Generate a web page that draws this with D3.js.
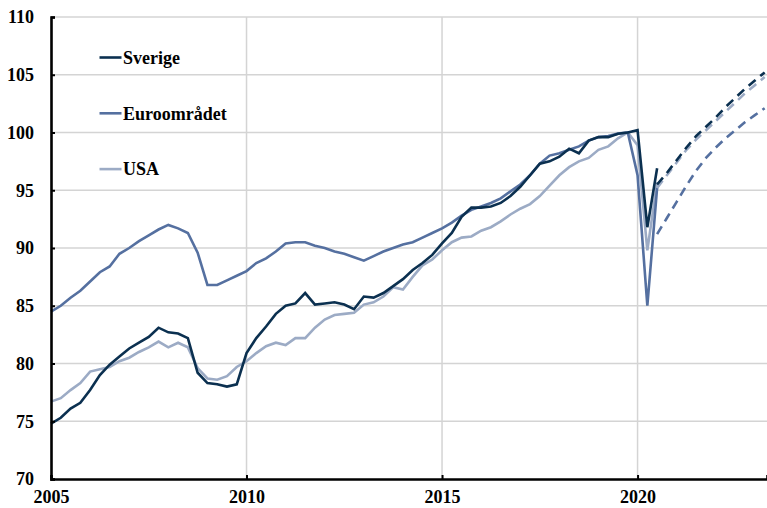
<!DOCTYPE html>
<html lang="sv">
<head>
<meta charset="UTF-8">
<title>BNP-index</title>
<script src="https://cdn.jsdelivr.net/npm/d3@7"></script>
<style>
    body { margin: 0; background: #fff; }
    text { font-family: "Liberation Serif", "Times New Roman", serif; font-weight: bold; }
</style>
</head>
<body>
<div id="chart"></div>
<script>
// Kvartal från 2005K1, index 2019K4 = 100
const startYear = 2005;
const sverige = [74.8,75.3,76.1,76.6,77.7,79.0,79.9,80.6,81.3,81.8,82.3,83.1,82.7,82.6,82.2,79.2,78.3,78.2,78.0,78.2,
    80.9,82.2,83.2,84.3,85.0,85.2,86.1,85.1,85.2,85.3,85.1,84.7,85.8,85.7,86.1,86.7,87.3,88.1,88.7,89.4,
    90.4,91.3,92.7,93.5,93.5,93.6,93.9,94.5,95.3,96.3,97.3,97.5,97.9,98.6,98.2,99.3,99.6,99.6,99.9,100.0,
    100.2,91.8,96.9];
const euro = [84.5,85.0,85.7,86.3,87.1,87.9,88.4,89.5,90.0,90.6,91.1,91.6,92.0,91.7,91.3,89.6,86.8,86.8,87.2,87.6,
    88.0,88.7,89.1,89.7,90.4,90.5,90.5,90.2,90.0,89.7,89.5,89.2,88.9,89.3,89.7,90.0,90.3,90.5,90.9,91.3,
    91.7,92.2,92.8,93.3,93.6,93.9,94.3,94.9,95.5,96.3,97.3,98.0,98.2,98.5,98.8,99.3,99.6,99.7,99.9,100.0,
    96.3,85.0,95.2];
const usa = [76.7,77.0,77.7,78.3,79.3,79.5,79.7,80.2,80.5,81.0,81.4,81.9,81.4,81.8,81.4,79.6,78.7,78.6,78.9,79.7,
    80.2,80.9,81.5,81.8,81.6,82.2,82.2,83.1,83.8,84.2,84.3,84.4,85.1,85.3,85.8,86.6,86.4,87.5,88.5,89.0,
    89.8,90.5,90.9,91.0,91.5,91.8,92.3,92.9,93.4,93.8,94.5,95.4,96.3,97.0,97.5,97.8,98.5,98.8,99.5,100.0,
    98.9,89.8,95.7];

// Prognoser från 2020K3
const prognosStart = 62;
const sverigePrognos = [95.5,96.5,97.6,98.7,99.7,100.5,101.3,102.2,103.0,103.8,104.5,105.2];
const euroPrognos = [91.2,92.6,94.0,95.4,96.7,97.8,98.7,99.5,100.2,100.9,101.5,102.1];
const usaPrognos = [95.2,96.3,97.4,98.5,99.4,100.2,101.0,101.8,102.6,103.4,104.1,104.8];

const xTicks = [2005, 2010, 2015, 2020];
const yTicks = [70, 75, 80, 85, 90, 95, 100, 105, 110];

const series = [
    { name: "Sverige", color: "#0b3050", actual: sverige, forecast: sverigePrognos },
    { name: "Euroområdet", color: "#5570a0", actual: euro, forecast: euroPrognos },
    { name: "USA", color: "#9cabc5", actual: usa, forecast: usaPrognos }
];

const width = 767, height = 508;
const margin = { left: 51, right: 0, top: 17, bottom: 29 };

const svg = d3.select("#chart").append("svg")
    .attr("width", width).attr("height", height);

const x = d3.scaleLinear().domain([2005, 2023.31]).range([margin.left, width - margin.right]);
const y = d3.scaleLinear().domain([70, 110]).range([height - margin.bottom, margin.top]);

const qx = i => startYear + i / 4;

// rutnät
svg.append("g").selectAll("line").data(yTicks.slice(1)).enter().append("line")
    .attr("x1", margin.left).attr("x2", width)
    .attr("y1", d => y(d)).attr("y2", d => y(d))
    .attr("stroke", "#d4d4d4").attr("stroke-width", 1.5);
svg.append("g").selectAll("line").data(xTicks.slice(1)).enter().append("line")
    .attr("x1", d => x(d)).attr("x2", d => x(d))
    .attr("y1", margin.top).attr("y2", y(70))
    .attr("stroke", "#d4d4d4").attr("stroke-width", 1.5);

// linjer
const line = d3.line().x(d => x(d[0])).y(d => y(d[1]));

series.slice().reverse().forEach(s => {
    svg.append("path")
        .datum(s.actual.map((v, i) => [qx(i), v]))
        .attr("d", line)
        .attr("fill", "none").attr("stroke", s.color).attr("stroke-width", 2.6)
        .attr("stroke-linejoin", "miter");
});
series.slice().reverse().forEach(s => {
    svg.append("path")
        .datum(s.forecast.map((v, i) => [qx(prognosStart + i), v]))
        .attr("d", line)
        .attr("fill", "none").attr("stroke", s.color).attr("stroke-width", 2.6)
        .attr("stroke-dasharray", "9,6");
});

// axlar
const yAxis = d3.axisLeft(y).tickValues(yTicks).tickSize(-4).tickPadding(17);
const gy = svg.append("g").attr("transform", `translate(${margin.left},0)`).call(yAxis);
gy.select(".domain").attr("stroke", "#000").attr("stroke-width", 2.6);
gy.selectAll(".tick line").attr("stroke", "#000").attr("stroke-width", 2);
gy.selectAll(".tick text").attr("font-size", 18).attr("fill", "#000");

const xAxis = d3.axisBottom(x).tickValues(xTicks).tickFormat(d3.format("d")).tickSize(-4).tickPadding(11);
const gx = svg.append("g").attr("transform", `translate(0,${y(70)})`).call(xAxis);
gx.select(".domain").attr("stroke", "#000").attr("stroke-width", 2.6);
gx.selectAll(".tick line").attr("stroke", "#000").attr("stroke-width", 2);
gx.selectAll(".tick text").attr("font-size", 18).attr("fill", "#000");

// legend
const legend = svg.append("g");
series.forEach((s, i) => {
    const ly = 57.5 + i * 55.8;
    legend.append("line").attr("x1", 99.5).attr("x2", 121.5).attr("y1", ly).attr("y2", ly)
        .attr("stroke", s.color).attr("stroke-width", 2.6);
    legend.append("text").attr("x", 123).attr("y", ly + 6.3)
        .attr("font-size", 18).attr("fill", "#000").text(s.name);
});
</script>
</body>
</html>
